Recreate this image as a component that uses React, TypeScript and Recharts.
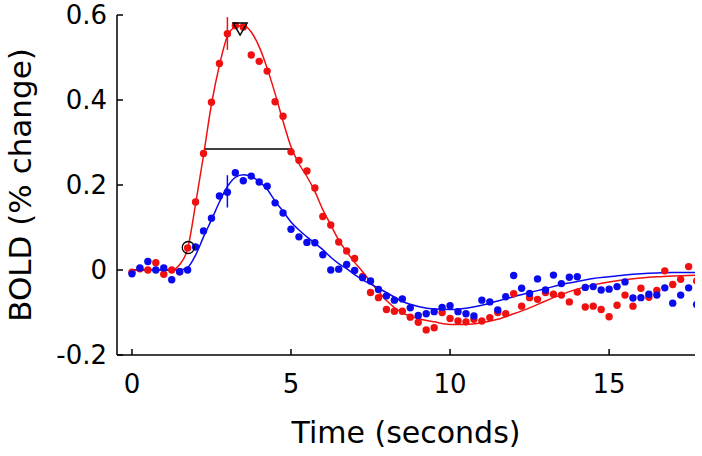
import React from "react";
import {
  ComposedChart,
  Line,
  Scatter,
  XAxis,
  YAxis,
  ReferenceLine,
  Label,
} from "recharts";

const RED = "#f01010";
const BLUE = "#0a0aee";
const FONT = "DejaVu Sans";

// sampling interval of the measured points (seconds)
const SAMPLE_STEP = 0.25;

// measured BOLD response, one value per sample
const redSamples = [
  -0.005, 0.003, 0.0, 0.017, -0.01, 0.0, -0.004, 0.052,
  0.16, 0.274, 0.395, 0.486, 0.556, 0.575, 0.572, 0.506,
  0.491, 0.468, 0.396, 0.362, 0.278, 0.258, 0.233, 0.193,
  0.126, 0.106, 0.066, 0.045, 0.027, -0.015, -0.053, -0.065,
  -0.093, -0.097, -0.097, -0.111, -0.123, -0.141, -0.136, -0.1,
  -0.114, -0.12, -0.122, -0.116, -0.12, -0.112, -0.1, -0.103,
  -0.056, -0.085, -0.065, -0.069, -0.053, -0.057, -0.059, -0.075,
  -0.052, -0.087, -0.085, -0.093, -0.11, -0.083, -0.059, -0.085,
  -0.043, -0.064, -0.048, -0.002, -0.034, -0.022, 0.008, -0.026,
];
const blueSamples = [
  -0.009, 0.005, 0.02, 0.0, 0.005, -0.023, -0.004, 0.0,
  0.054, 0.092, 0.122, 0.174, 0.183, 0.229, 0.21, 0.221,
  0.207, 0.197, 0.158, 0.134, 0.096, 0.078, 0.065, 0.064,
  0.036, 0.0, 0.002, 0.013, -0.001, -0.018, -0.026, -0.046,
  -0.061, -0.071, -0.068, -0.089, -0.107, -0.103, -0.098, -0.088,
  -0.084, -0.098, -0.103, -0.108, -0.071, -0.075, -0.094, -0.063,
  -0.013, -0.043, -0.055, -0.021, -0.047, -0.012, -0.032, -0.017,
  -0.016, -0.041, -0.039, -0.047, -0.045, -0.039, -0.028, -0.066,
  -0.065, -0.057, -0.059, -0.042, -0.078, -0.059, -0.042, -0.081,
];

// fitted curves
const fitTimes = [
  0, 0.5, 1.0, 1.25, 1.5, 1.75, 2.0, 2.25, 2.5, 2.75, 3.0, 3.25, 3.5, 3.75,
  4.0, 4.25, 4.5, 4.75, 5.0, 5.25, 5.5, 5.75, 6.0, 6.25, 6.5, 6.75, 7.0, 7.25,
  7.5, 7.75, 8.0, 8.5, 9.0, 9.5, 10.0, 10.5, 11.0, 11.5, 12.0, 12.5, 13.0,
  13.5, 14.0, 14.5, 15.0, 15.5, 16.0, 16.5, 17.0, 17.75,
];
const redFitValues = [
  0, 0, 0, 0, 0.013, 0.05, 0.155, 0.27, 0.39, 0.482, 0.55, 0.572, 0.576, 0.56,
  0.525, 0.475, 0.415, 0.35, 0.29, 0.25, 0.22, 0.185, 0.142, 0.106, 0.07, 0.043, 0.018, -0.004,
  -0.028, -0.05, -0.072, -0.101, -0.114, -0.122, -0.128, -0.128, -0.124, -0.116, -0.103, -0.089, -0.073,
  -0.058, -0.045, -0.035, -0.028, -0.023, -0.019, -0.016, -0.014, -0.012,
];
const blueFitValues = [
  0, 0, 0, 0, 0, 0.006, 0.035, 0.078, 0.118, 0.16, 0.196, 0.218, 0.224, 0.22,
  0.208, 0.19, 0.162, 0.138, 0.113, 0.094, 0.078, 0.063, 0.048, 0.03, 0.015, 0.003, -0.011, -0.023,
  -0.033, -0.043, -0.053, -0.074, -0.086, -0.092, -0.093, -0.09, -0.083, -0.073, -0.063, -0.053, -0.044,
  -0.034, -0.027, -0.02, -0.016, -0.012, -0.009, -0.007, -0.006, -0.006,
];

const xTicks = [0, 5, 10, 15];
const yTicks = [-0.2, 0, 0.2, 0.4, 0.6];

const redErr = { t: 3, lo: 0.518, hi: 0.595 };
const blueErr = { t: 3, lo: 0.147, hi: 0.223 };
const halfMax = { from: 2.3, to: 5.03, v: 0.285 };
const onset = [{ t: 1.77, v: 0.053 }];
const peak = [{ t: 3.4, v: 0.567 }];

const redDots = redSamples.map((v, i) => ({ t: i * SAMPLE_STEP, v }));
const blueDots = blueSamples.map((v, i) => ({ t: i * SAMPLE_STEP, v }));
const redFit = fitTimes.map((t, i) => ({ t, v: redFitValues[i] }));
const blueFit = fitTimes.map((t, i) => ({ t, v: blueFitValues[i] }));

const Y_MARGIN = 10;
const X_MARGIN = 15;

const YTick = (props: any) => {
  const { x, y, payload } = props;
  return (
    <g>
      <line x1={x + Y_MARGIN} x2={x + Y_MARGIN + 6} y1={y} y2={y} stroke="#000" strokeWidth={1.5} />
      <text x={x} y={y} dy="0.36em" textAnchor="end" fontFamily={FONT} fontSize={26} fill="#000">
        {String(payload.value)}
      </text>
    </g>
  );
};

const XTick = (props: any) => {
  const { x, y, payload } = props;
  return (
    <g>
      <line x1={x} x2={x} y1={y - X_MARGIN} y2={y - X_MARGIN - 6} stroke="#000" strokeWidth={1.5} />
      <text x={x} y={y + 23} textAnchor="middle" fontFamily={FONT} fontSize={26} fill="#000">
        {String(payload.value)}
      </text>
    </g>
  );
};

const YTitle = (props: any) => {
  const { viewBox } = props;
  const cx = viewBox.x + 20;
  const cy = viewBox.y + viewBox.height / 2;
  return (
    <text
      x={cx}
      y={cy}
      dy="0.36em"
      textAnchor="middle"
      transform={`rotate(-90, ${cx}, ${cy})`}
      fontFamily={FONT}
      fontSize={31}
      fill="#000"
    >
      BOLD (% change)
    </text>
  );
};

const XTitle = (props: any) => {
  const { viewBox } = props;
  const cx = viewBox.x + viewBox.width / 2;
  return (
    <text x={cx} y={viewBox.y + 88} textAnchor="middle" fontFamily={FONT} fontSize={30} fill="#000">
      Time (seconds)
    </text>
  );
};

export default function App() {
  return (
    <div style={{ position: "absolute", left: 0, top: 0, width: 702, height: 456, background: "#fff" }}>
      <ComposedChart width={702} height={456} margin={{ top: 15, right: 7, bottom: 41, left: 0 }}>
        <XAxis
          type="number"
          dataKey="t"
          domain={[-0.47, 17.7]}
          ticks={xTicks}
          allowDataOverflow
          height={60}
          tickSize={0}
          tickMargin={X_MARGIN}
          tickLine={false}
          axisLine={{ stroke: "#000", strokeWidth: 1.5 }}
          tick={<XTick />}
        >
          <Label content={<XTitle />} />
        </XAxis>
        <YAxis
          type="number"
          dataKey="v"
          domain={[-0.2, 0.6]}
          ticks={yTicks}
          allowDataOverflow
          width={117}
          tickSize={0}
          tickMargin={Y_MARGIN}
          tickLine={false}
          axisLine={{ stroke: "#000", strokeWidth: 1.5 }}
          tick={<YTick />}
        >
          <Label content={<YTitle />} />
        </YAxis>

        <Scatter
          data={redDots}
          dataKey="v"
          isAnimationActive={false}
          shape={(p: any) => <circle cx={p.cx} cy={p.cy} r={3.7} fill={RED} />}
        />
        <Line
          data={redFit}
          dataKey="v"
          type="monotone"
          stroke={RED}
          strokeWidth={1.5}
          dot={false}
          activeDot={false}
          isAnimationActive={false}
        />
        <Scatter
          data={blueDots}
          dataKey="v"
          isAnimationActive={false}
          shape={(p: any) => <circle cx={p.cx} cy={p.cy} r={3.7} fill={BLUE} />}
        />
        <Line
          data={blueFit}
          dataKey="v"
          type="monotone"
          stroke={BLUE}
          strokeWidth={1.5}
          dot={false}
          activeDot={false}
          isAnimationActive={false}
        />

        <ReferenceLine
          segment={[{ x: redErr.t, y: redErr.lo }, { x: redErr.t, y: redErr.hi }]}
          stroke={RED}
          strokeWidth={1.5}
        />
        <ReferenceLine
          segment={[{ x: blueErr.t, y: blueErr.lo }, { x: blueErr.t, y: blueErr.hi }]}
          stroke={BLUE}
          strokeWidth={1.5}
        />
        <ReferenceLine
          segment={[{ x: halfMax.from, y: halfMax.v }, { x: halfMax.to, y: halfMax.v }]}
          stroke="#000"
          strokeWidth={1.5}
        />

        <Scatter
          data={onset}
          dataKey="v"
          isAnimationActive={false}
          shape={(p: any) => (
            <circle cx={p.cx} cy={p.cy} r={6} fill="none" stroke="#000" strokeWidth={1.3} />
          )}
        />
        <Scatter
          data={peak}
          dataKey="v"
          isAnimationActive={false}
          shape={(p: any) => (
            <polygon
              points={`${p.cx - 7},${p.cy - 6} ${p.cx + 7},${p.cy - 6} ${p.cx},${p.cy + 6}`}
              fill="none"
              stroke="#000"
              strokeWidth={1.5}
            />
          )}
        />
      </ComposedChart>
    </div>
  );
}
